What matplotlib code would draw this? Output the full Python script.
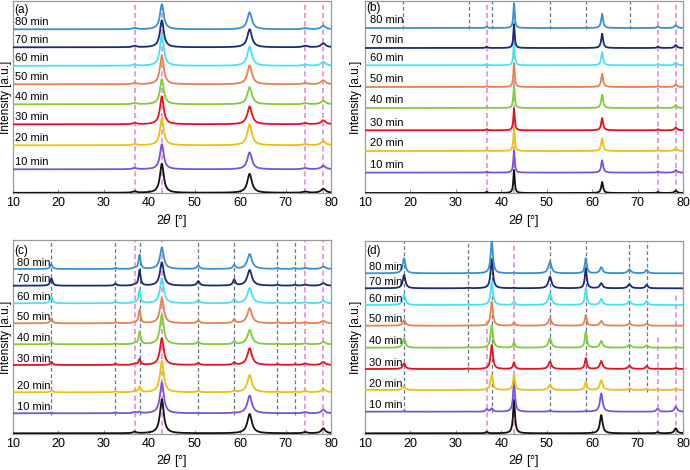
import numpy as np
import matplotlib
matplotlib.use("Agg")
import matplotlib.pyplot as plt

plt.rcParams['font.family'] = ['Liberation Sans', 'DejaVu Sans']
plt.rcParams['mathtext.fontset'] = 'dejavusans'

# ---------------- data ----------------
series_labels = ["", "10 min", "20 min", "30 min", "40 min", "50 min", "60 min", "70 min", "80 min"]
series_colors = ["#111111", "#7a52de", "#f0c010", "#e8121e", "#7cce3a",
                 "#e8824c", "#48e2f2", "#1a2a7a", "#3592d6"]
x_ticks = [10, 20, 30, 40, 50, 60, 70, 80]

# panel (a)
a_peaks = [36.8, 42.8, 62.1, 74.3, 78.3]
a_widths = [0.5, 0.5, 0.6, 0.6, 0.6]
a_offsets = [0.5, 24, 48, 69, 89, 109, 127.5, 146, 164]
a_heights = [
    [1.5, 29, 19, 1.2, 4.0],
    [1.3, 25, 17, 1.2, 3.5],
    [1.3, 27, 21, 1.2, 4.0],
    [1.3, 28, 18, 1.2, 4.0],
    [1.3, 25, 17, 1.2, 3.5],
    [1.3, 29, 19, 1.2, 4.0],
    [1.3, 31, 19, 1.2, 4.0],
    [1.5, 27, 18, 1.5, 4.0],
    [1.3, 25, 17, 1.2, 3.5],
]
a_pink = [36.8, 42.8, 74.3, 78.3]

# panel (b)
b_peaks = [36.8, 42.8, 62.2, 74.5, 78.4]
b_widths = [0.2, 0.18, 0.25, 0.25, 0.3]
b_offsets = [0.3, 20.7, 42.3, 63, 85.3, 106.3, 128, 145.3, 165.3]
b_heights = [
    [1.2, 23.0, 11.0, 1.0, 2.5],
    [1.2, 22.0, 12.3, 1.2, 2.5],
    [1.0, 23.0, 12.7, 1.0, 3.0],
    [1.2, 22.0, 12.3, 1.0, 3.0],
    [1.0, 23.0, 13.3, 1.0, 3.0],
    [1.0, 24.0, 13.3, 1.0, 2.5],
    [1.5, 23.3, 13.3, 1.5, 3.0],
    [1.5, 23.7, 14.3, 1.5, 3.0],
    [1.5, 25.0, 14.3, 1.5, 3.0],
]
b_pink = [36.8, 42.8, 74.5, 78.4]
b_grey = [18.3, 32.8, 37.9, 50.8, 58.6, 68.3]

# panel (c)
c_peaks = [18.5, 32.6, 36.8, 37.9, 42.8, 50.8, 58.7, 62.1, 68.2, 72.0, 74.3, 78.3]
c_widths = [0.3, 0.3, 0.4, 0.25, 0.5, 0.35, 0.3, 0.6, 0.3, 0.3, 0.5, 0.5]
c_offsets = [0.7, 20.7, 41.7, 69, 89.7, 110.7, 130.7, 148.3, 165]
c_heights = [
    [0.0, 0.0, 1.5, 0.0, 34.0, 0.0, 0.0, 19.3, 0.0, 0.0, 1.2, 5.0],
    [0.5, 0.8, 1.2, 1.5, 31.0, 0.3, 0.5, 17.7, 0.0, 0.0, 1.2, 3.5],
    [2.0, 0.8, 1.2, 5.7, 31.3, 1.5, 1.5, 17.3, 0.5, 0.5, 1.2, 3.5],
    [3.3, 1.2, 1.2, 6.0, 26.7, 2.0, 2.5, 16.7, 0.7, 0.7, 1.5, 3.0],
    [2.5, 1.0, 1.0, 12.3, 29.3, 2.5, 3.0, 14.3, 0.7, 0.7, 1.0, 2.5],
    [5.0, 1.0, 1.0, 13.3, 25.0, 3.0, 4.0, 15.0, 1.0, 1.0, 1.0, 2.5],
    [6.7, 2.0, 1.0, 13.3, 25.0, 3.5, 4.5, 15.0, 1.0, 1.0, 1.0, 2.5],
    [7.3, 2.0, 1.0, 15.7, 23.3, 4.5, 6.0, 15.7, 1.0, 1.0, 1.0, 2.5],
    [4.7, 1.0, 1.0, 14.0, 21.3, 3.5, 4.0, 15.0, 1.0, 1.0, 1.0, 2.5],
]
c_pink = [36.8, 42.8, 74.3, 78.3]
c_grey = [18.5, 32.6, 37.9, 50.8, 58.7, 68.2, 72.0]

# panel (d)
d_peaks = [18.6, 32.7, 36.8, 37.9, 42.8, 50.7, 58.6, 62.0, 68.2, 72.0, 74.4, 78.4]
d_widths = [0.35, 0.3, 0.25, 0.3, 0.25, 0.4, 0.25, 0.35, 0.4, 0.3, 0.3, 0.35]
d_offsets = [0.7, 22.3, 44, 65, 86.3, 108.3, 129, 145.7, 160.7]
d_heights = [
    [0.0, 0.0, 1.5, 0.0, 33.3, 0.0, 0.0, 18.3, 0.0, 0.0, 1.2, 5.0],
    [0.5, 0.3, 2.5, 3.3, 30.0, 1.0, 0.5, 18.3, 0.0, 0.0, 3.0, 5.0],
    [3.3, 0.3, 0.5, 15.0, 15.0, 5.0, 8.3, 10.0, 1.5, 1.5, 0.5, 1.5],
    [5.7, 0.5, 0.0, 24.0, 6.7, 7.3, 10.7, 8.0, 3.0, 3.0, 0.3, 1.0],
    [9.3, 0.5, 0.0, 22.7, 5.3, 9.3, 16.0, 6.7, 3.0, 2.5, 0.0, 0.5],
    [5.7, 0.3, 0.0, 24.0, 3.3, 7.3, 10.7, 4.7, 2.0, 2.0, 0.0, 0.0],
    [10.7, 0.3, 0.0, 23.0, 3.3, 11.7, 16.7, 6.0, 4.0, 4.0, 0.0, 0.0],
    [13.3, 0.5, 0.0, 29.3, 0.5, 11.7, 20.0, 5.0, 4.0, 3.5, 0.0, 0.0],
    [15.0, 0.5, 0.0, 31.7, 0.5, 11.7, 15.0, 6.0, 4.0, 3.5, 0.0, 0.0],
]
d_pink = [36.8, 42.8, 74.4, 78.4]
d_pink_top = [0.60, 1.0, 0.505, 0.72]
d_grey = [18.6, 32.7, 37.9, 50.7, 58.6, 68.2, 72.0]
d_grey_bottom = [0.115, 0.32, 0.115, 0.115, 0.115, 0.22, 0.22]

# ---------------- drawing ----------------
PINK = "#e88ad6"
GREY = "#66788a"
SPINE = "#9a9a9a"

x = np.linspace(10, 80, 3501)


def profile(peaks, widths, heights):
    y = np.zeros_like(x)
    for p, w, h in zip(peaks, widths, heights):
        y += h / (1.0 + ((x - p) / w) ** 2)
    return y


fig = plt.figure(figsize=(6.9, 4.7), dpi=100)
W, H = 690.0, 470.0


def make_axes(left, right, top, bottom):
    return fig.add_axes([left / W, 1 - bottom / H, (right - left) / W, (bottom - top) / H])


def style(ax, ytop, letter, letter_y, ylab_x):
    ax.set_xlim(10, 80)
    ax.set_ylim(0, ytop)
    ax.set_yticks([])
    ax.set_xticks(x_ticks)
    ax.tick_params(axis='x', direction='in', length=3, color=SPINE, pad=3, labelsize=9)
    for s in ax.spines.values():
        s.set_color(SPINE)
        s.set_linewidth(0.9)
    ax.set_xlabel(r'2$\it{\theta}$ [°]', fontsize=9, labelpad=1.5)
    ax.set_ylabel('Intensity [a.u.]', fontsize=8.5)
    ax.yaxis.set_label_coords(ylab_x, 0.5)
    ax.text(10.25, ytop - letter_y, letter, fontsize=8.5, va='center', ha='left')


def draw(ax, peaks, widths, heights, offsets, label_x, label_dy):
    for i in range(len(offsets)):
        y = offsets[i] + profile(peaks, widths, heights[i])
        ax.plot(x, y, color=series_colors[i], lw=1.3, zorder=3)
        if series_labels[i]:
            ax.text(label_x, offsets[i] + label_dy, series_labels[i], fontsize=8,
                    va='bottom', ha='left', zorder=4)


# (a)
ax = make_axes(12.7, 331, 1, 193.3)
for p in a_pink:
    ax.axvline(p, color=PINK, ls=(0, (3, 2)), lw=1.2, zorder=1)
draw(ax, a_peaks, a_widths, a_heights, a_offsets, 10.5, 2.5)
style(ax, 192.3, "(a)", 9.5, -0.001)

# (b)
ax = make_axes(365, 683, 1, 193.3)
for p in b_pink:
    ax.axvline(p, color=PINK, ls=(0, (3, 2)), lw=1.2, zorder=1)
for p in b_grey:
    ax.axvline(p, ymin=0.855, ymax=1.0, color=GREY, ls=(0, (3, 2)), lw=0.9, zorder=1)
draw(ax, b_peaks, b_widths, b_heights, b_offsets, 11.1, 2.7)
style(ax, 192.3, "(b)", 7.5, -0.009)

# (c)
ax = make_axes(12.7, 331, 240, 434)
for p in c_pink:
    ax.axvline(p, color=PINK, ls=(0, (3, 2)), lw=1.2, zorder=1)
for p in c_grey:
    ax.axvline(p, ymin=0.1, ymax=1.0, color=GREY, ls=(0, (3, 2)), lw=0.9, zorder=1)
draw(ax, c_peaks, c_widths, c_heights, c_offsets, 11.0, 1.2)
style(ax, 194, "(c)", 11, -0.002)

# (d)
ax = make_axes(365, 683, 241, 434)
for p, t in zip(d_pink, d_pink_top):
    ax.axvline(p, ymin=0, ymax=t, color=PINK, ls=(0, (3, 2)), lw=1.2, zorder=1)
for p, b in zip(d_grey, d_grey_bottom):
    ax.axvline(p, ymin=b, ymax=1.0, color=GREY, ls=(0, (3, 2)), lw=0.9, zorder=1)
draw(ax, d_peaks, d_widths, d_heights, d_offsets, 10.8, 1.2)
style(ax, 193, "(d)", 10, -0.009)

fig.savefig("out.png", dpi=100)
